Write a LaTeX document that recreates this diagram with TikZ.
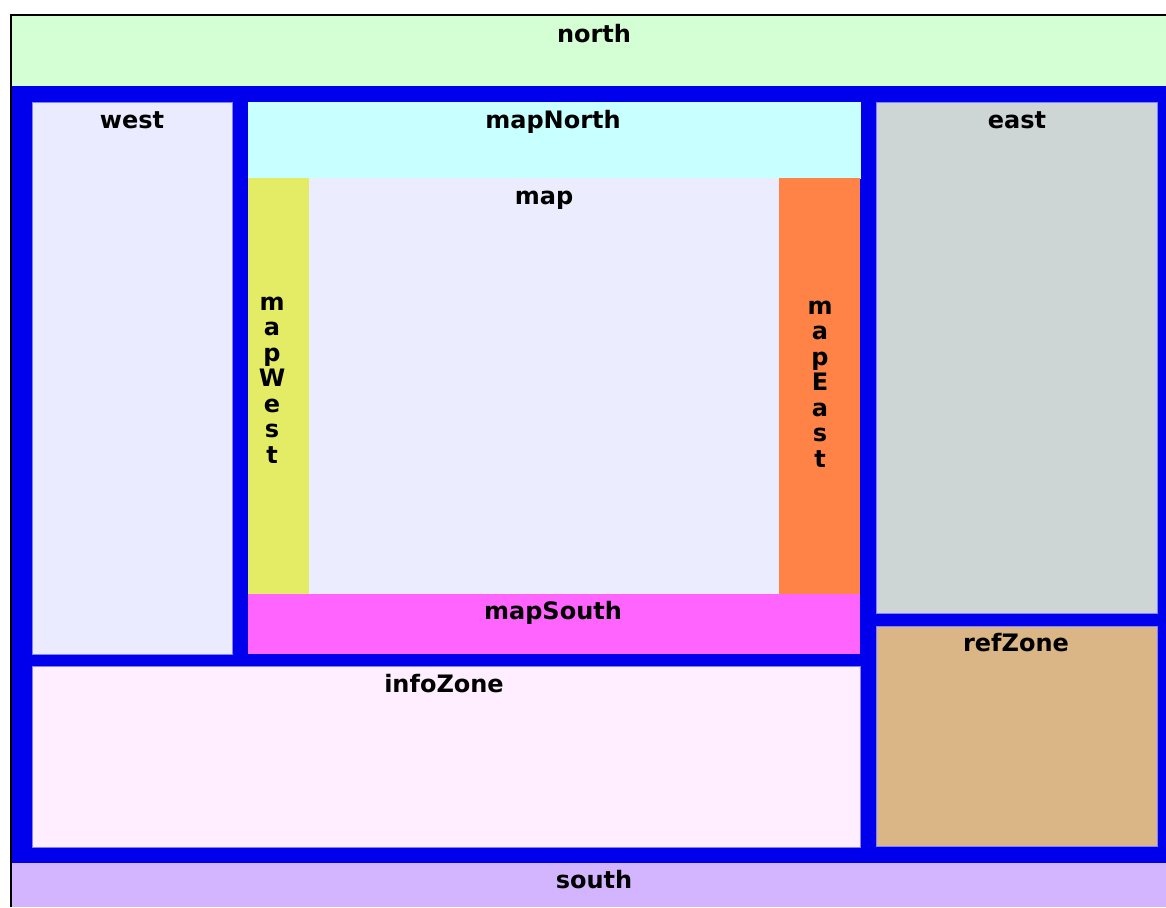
\documentclass[tikz,border=0pt]{standalone}
\usepackage{fontspec}
\setmainfont{DejaVu Sans}
\begin{document}
\begin{tikzpicture}[x=1pt,y=-1pt]
\definecolor{cnorth}{RGB}{212,255,212}
\definecolor{cblue}{RGB}{0,0,236}
\definecolor{cwest}{RGB}{235,235,255}
\definecolor{cmapnorth}{RGB}{200,255,255}
\definecolor{cmapwest}{RGB}{228,235,100}
\definecolor{cmap}{RGB}{236,236,255}
\definecolor{cmapeast}{RGB}{255,130,70}
\definecolor{cmapsouth}{RGB}{255,100,255}
\definecolor{ceast}{RGB}{205,213,213}
\definecolor{cref}{RGB}{218,181,133}
\definecolor{cinfo}{RGB}{255,238,255}
\definecolor{csouth}{RGB}{210,180,255}
\definecolor{cedge}{RGB}{130,130,255}
\tikzset{
  lbl/.style={anchor=base, inner sep=0pt, font=\bfseries\fontsize{24}{24.5}\selectfont},
  vlbl/.style={inner sep=0pt, align=center, font=\bfseries\fontsize{24}{25.5}\selectfont},
  zone/.style={draw=cedge, line width=0.6pt}
}
\useasboundingbox (0,0) rectangle (1166,907);
\fill[white] (0,0) rectangle (1166,907);
% outer frame
\fill[cnorth] (12,16) rectangle (1166,86);
\fill[cblue] (12,86) rectangle (1166,863);
\fill[csouth] (12,863) rectangle (1166,907);
\draw[black, line width=2pt] (11,907) -- (11,15) -- (1166,15);
% zones
\filldraw[zone, fill=cwest] (32,102) rectangle (232,654);
\filldraw[zone, fill=cmapnorth, draw=cmapnorth] (248,102) rectangle (860,178);
\fill[cmapwest] (248,178) rectangle (309,594);
\fill[cmap] (309,178) rectangle (779,594);
\fill[cmapeast] (779,178) rectangle (860,594);
\fill[cmapsouth] (248,594) rectangle (860,654);
\filldraw[zone, fill=cinfo] (32,666) rectangle (860,847);
\filldraw[zone, fill=ceast] (876,102) rectangle (1157,613);
\filldraw[zone, fill=cref] (876,626) rectangle (1157,846);
% labels
\node[lbl] (north) at (594,42) {north};
\node[lbl] (west) at (132,128) {west};
\node[lbl] (mapNorth) at (553,128) {mapNorth};
\node[lbl] (map) at (544,204) {map};
\node[lbl] (east) at (1017,128) {east};
\node[lbl] (mapSouth) at (553,619) {mapSouth};
\node[lbl] (infoZone) at (444,692) {infoZone};
\node[lbl] (refZone) at (1016,651) {refZone};
\node[lbl] (south) at (594,888) {south};
\node[vlbl] (mapWest) at (272,380) {m\\a\\p\\W\\e\\s\\t};
\node[vlbl] (mapEast) at (820,384) {m\\a\\p\\E\\a\\s\\t};
\end{tikzpicture}
\end{document}
